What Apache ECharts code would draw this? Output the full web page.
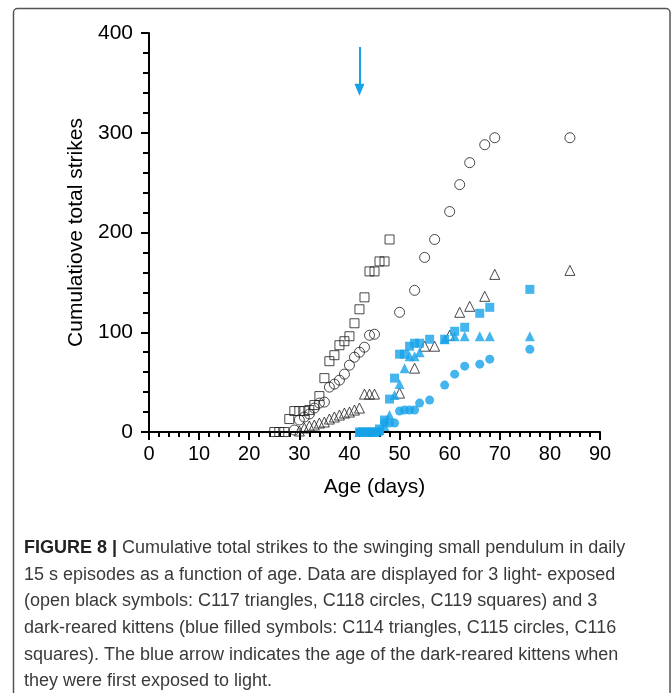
<!DOCTYPE html>
<html>
<head>
<meta charset="utf-8">
<script src="https://cdn.jsdelivr.net/npm/echarts@6/dist/echarts.min.js"></script>
<style>
html,body{margin:0;padding:0;background:#fff;}
#chart{width:672px;height:693px;}
</style>
</head>
<body>
<div id="chart"></div>
<script>
// ---- data ----
const xTicks = [0,10,20,30,40,50,60,70,80,90];
const yTicks = [0,100,200,300,400];

// light-exposed (open black)
const c117Days = [30,31,32,33,34,35,36,37,38,39,40,41,42,43,44,45,50,53,55,57,60,62,64,67,69,84];
const c117Vals = [1,4,6,7,9,10,13,15,17,19,20,22,24,38,38,38,39,64,86,86,97,120,126,136,158,162];

const c118Days = [29,30,31,32,33,34,35,36,37,38,39,40,41,42,43,44,45,50,53,55,57,60,62,64,67,69,84];
const c118Vals = [2,12,15,18,24,29,30,45,48,52,58,67,75,80,85,97,98,120,142,175,193,221,248,270,288,295,295];

const c119Days = [25,26,27,28,29,30,31,32,33,34,35,36,37,38,39,40,41,42,43,44,45,46,47,48];
const c119Vals = [0,0,0,13,21,21,21,22,27,36,54,71,77,87,91,96,109,123,135,161,161,171,171,193];

// dark-reared (blue filled)
const c114Days = [42,43,44,45,46,47,48,49,50,51,52,53,54,59,61,63,66,68,76];
const c114Vals = [0,0,0,0,2,6,17,37,48,64,76,76,80,93,96,96,96,96,96];

const c115Days = [42,43,44,45,46,47,48,49,50,51,52,53,54,56,59,61,63,66,68,76];
const c115Vals = [0,0,0,0,0,9,9,9,21,22,22,22,29,32,47,58,66,68,73,83];

const c116Days = [42,43,44,45,46,47,48,49,50,51,52,53,54,56,59,61,63,66,68,76];
const c116Vals = [0,0,0,0,3,12,33,54,78,78,86,89,89,93,93,101,105,119,125,143];

// arrow: age at first light exposure
const arrowDay = 42;
const arrowFrom = 386;
const arrowTo = 343;

const captionBold = "FIGURE 8 |";
const captionFirst = " Cumulative total strikes to the swinging small pendulum in daily";
const captionLines = [
  "15 s episodes as a function of age. Data are displayed for 3 light- exposed",
  "(open black symbols: C117 triangles, C118 circles, C119 squares) and 3",
  "dark-reared kittens (blue filled symbols: C114 triangles, C115 circles, C116",
  "squares). The blue arrow indicates the age of the dark-reared kittens when",
  "they were first exposed to light."
];

// ---- chart ----
const BLUE = '#17a2e8';
const CAP_FONT = '"Liberation Sans",Arial,sans-serif';
const CAP_SIZE = 18;
const zip = (xs, ys) => xs.map((x, i) => [x, ys[i]]);

function openSeries(name, days, vals, symbol, size) {
  return {
    name, type: 'scatter', data: zip(days, vals), symbol, symbolSize: size,
    itemStyle: { color: 'rgba(0,0,0,0)', borderColor: '#1a1a1a', borderWidth: 1 },
    z: 3
  };
}
function filledSeries(name, days, vals, symbol, size) {
  return {
    name, type: 'scatter', data: zip(days, vals), symbol, symbolSize: size,
    itemStyle: { color: BLUE, borderWidth: 0 },
    z: 4
  };
}

// horizontal compression of caption so that line 1 spans the same width as the reference
const mctx = document.createElement('canvas').getContext('2d');
mctx.font = 'bold ' + CAP_SIZE + 'px ' + CAP_FONT;
const wBold = mctx.measureText(captionBold).width;
mctx.font = CAP_SIZE + 'px ' + CAP_FONT;
const wFirst = mctx.measureText(captionFirst).width;
const capScale = Math.min(1, 608 / (wBold + wFirst));

const capX = 24, capY0 = 548, capStep = 26.7;
const captionGraphics = [
  {
    type: 'text', x: capX, y: capY0, scaleX: capScale, originX: 0, originY: 0,
    style: {
      text: '{b|' + captionBold + '}{n|' + captionFirst + '}',
      verticalAlign: 'middle',
      rich: {
        b: { fontFamily: CAP_FONT, fontSize: CAP_SIZE, fontWeight: 'bold', fill: '#222' },
        n: { fontFamily: CAP_FONT, fontSize: CAP_SIZE, fill: '#3a3a3a' }
      }
    }
  }
];
captionLines.forEach((t, i) => {
  captionGraphics.push({
    type: 'text', x: capX, y: capY0 + (i + 1) * capStep, scaleX: capScale, originX: 0, originY: 0,
    style: { text: t, verticalAlign: 'middle', fontFamily: CAP_FONT, fontSize: CAP_SIZE, fill: '#3a3a3a' }
  });
});

const chart = echarts.init(document.getElementById('chart'), null, { renderer: 'canvas' });

chart.setOption({
  animation: false,
  backgroundColor: '#fff',
  grid: { left: 149, right: 72, top: 33, bottom: 261, containLabel: false },
  xAxis: {
    type: 'value', min: 0, max: 90, interval: 10,
    name: 'Age (days)', nameLocation: 'middle', nameGap: 45,
    nameTextStyle: { fontFamily: '"Liberation Sans",Arial,sans-serif', fontSize: 21, color: '#000' },
    axisLine: { show: true, onZero: false, lineStyle: { color: '#000', width: 2 } },
    axisTick: { show: true, length: 8, lineStyle: { color: '#000', width: 2 } },
    minorTick: { show: true, splitNumber: 5, length: 5, lineStyle: { color: '#000', width: 2 } },
    axisLabel: {
      margin: 12, fontFamily: '"Liberation Sans",Arial,sans-serif', fontSize: 20, color: '#000',
      formatter: v => xTicks.includes(v) ? String(v) : ''
    },
    splitLine: { show: false }, minorSplitLine: { show: false }
  },
  yAxis: {
    type: 'value', min: 0, max: 400, interval: 100,
    name: 'Cumulatiove total strikes', nameLocation: 'middle', nameGap: 62, nameRotate: 90,
    nameTextStyle: { fontFamily: '"Liberation Sans",Arial,sans-serif', fontSize: 21, color: '#000' },
    axisLine: { show: true, onZero: false, lineStyle: { color: '#000', width: 2 } },
    axisTick: { show: true, length: 8, lineStyle: { color: '#000', width: 2 } },
    minorTick: { show: true, splitNumber: 5, length: 6, lineStyle: { color: '#000', width: 2 } },
    axisLabel: {
      margin: 16, fontFamily: '"Liberation Sans",Arial,sans-serif', fontSize: 21, color: '#000',
      formatter: v => yTicks.includes(v) ? String(v) : ''
    },
    splitLine: { show: false }, minorSplitLine: { show: false }
  },
  series: [
    openSeries('C117', c117Days, c117Vals, 'triangle', 10),
    openSeries('C118', c118Days, c118Vals, 'circle', 10),
    openSeries('C119', c119Days, c119Vals, 'rect', 9),
    filledSeries('C114', c114Days, c114Vals, 'triangle', 10),
    filledSeries('C115', c115Days, c115Vals, 'circle', 9),
    filledSeries('C116', c116Days, c116Vals, 'rect', 9),
    {
      name: 'arrow', type: 'line', data: [], silent: true,
      markLine: {
        silent: true, animation: false,
        symbol: ['none', 'triangle'], symbolSize: [10, 12],
        label: { show: false },
        lineStyle: { color: BLUE, width: 2, type: 'solid' },
        data: [[{ coord: [arrowDay, arrowFrom] }, { coord: [arrowDay, arrowTo] }]]
      }
    }
  ],
  graphic: [
    {
      type: 'rect', silent: true, z: -1,
      shape: { x: 13.5, y: 8.5, width: 656.5, height: 720, r: 4 },
      style: { fill: 'none', stroke: '#555', lineWidth: 1.5 }
    }
  ].concat(captionGraphics)
});
</script>
</body>
</html>
